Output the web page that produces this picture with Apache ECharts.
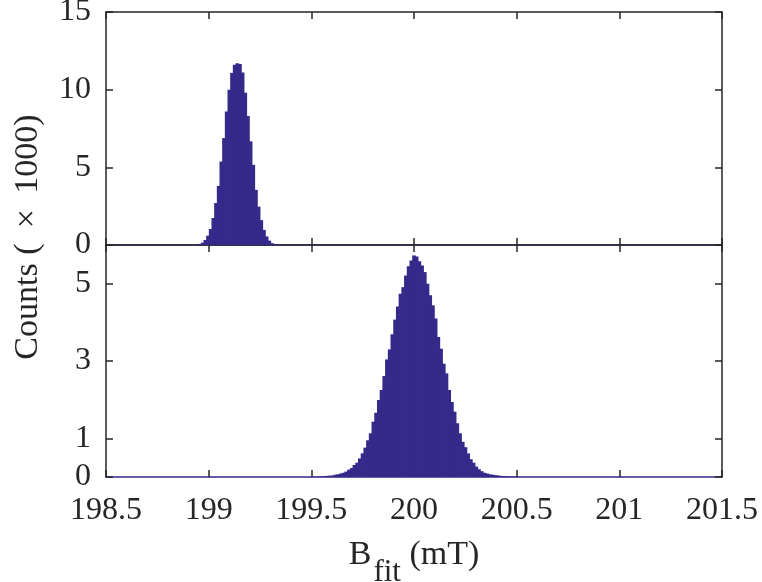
<!DOCTYPE html>
<html><head><meta charset="utf-8">
<script src="https://cdn.jsdelivr.net/npm/echarts@6/dist/echarts.min.js"></script>
<style>html,body{margin:0;padding:0;background:#fff}#c{width:762px;height:582px}</style>
</head><body><div id="c"></div>
<script>
// ---- data ----
const xTickValues = [198.5, 199, 199.5, 200, 200.5, 201, 201.5];
const topYTicks = [0, 5, 10, 15];
const bottomYTicks = [0, 1, 3, 5];

// top histogram (counts x 1000), bins of 0.013 mT
const topBinWidth = 0.013;
const topFirstCenter = 198.9445;
const topCounts = [0.03, 0.07, 0.15, 0.32, 0.6, 1.03, 1.74, 2.7, 3.8, 5.37, 6.88, 8.6, 10.0, 11.08, 11.6,
  11.7, 11.65, 11.1, 9.8, 8.3, 6.67, 5.16, 3.55, 2.47, 1.6, 0.97, 0.55, 0.28, 0.12, 0.05, 0.02];

// bottom histogram (counts x 1000), bins of 0.0132 mT
const bottomBinWidth = 0.0132;
const bottomFirstCenter = 199.5116;
const bottomCounts = [0.005, 0.008, 0.01, 0.015, 0.02, 0.03, 0.035, 0.04, 0.06, 0.07, 0.09, 0.11, 0.14, 0.19,
  0.23, 0.31, 0.37, 0.48, 0.61, 0.76, 0.95, 1.13, 1.43, 1.66, 1.99, 2.25, 2.61, 3.04, 3.30, 3.69, 4.07, 4.41,
  4.74, 4.91, 5.21, 5.45, 5.6, 5.73, 5.7, 5.58, 5.47, 5.3, 5.0, 4.70, 4.44, 4.10, 3.62, 3.32, 2.93, 2.68, 2.25,
  1.94, 1.69, 1.39, 1.13, 0.91, 0.77, 0.61, 0.46, 0.37, 0.27, 0.2, 0.15, 0.11, 0.09, 0.07, 0.06, 0.05, 0.04,
  0.03, 0.025, 0.02, 0.015, 0.01, 0.008, 0.005];

// ---- build ----
const topData = topCounts.map((v, i) => [topFirstCenter + i * topBinWidth, v]);
const bottomData = bottomCounts.map((v, i) => [bottomFirstCenter + i * bottomBinWidth, v]);

const FONT = 'Liberation Serif';
const TXT = '#262626';
const BAR = '#35298a';

function xAx(grid, pos, labels, lineColor) {
  return {
    type: 'value', gridIndex: grid, position: pos,
    min: xTickValues[0], max: xTickValues[xTickValues.length - 1], interval: 0.5,
    axisLine: { show: true, onZero: false, lineStyle: { color: lineColor, width: 1.5 } },
    axisTick: { show: true, inside: true, length: 7, lineStyle: { color: TXT, width: 1.5 } },
    axisLabel: { show: labels, margin: 18, fontFamily: FONT, fontSize: 32, color: TXT,
      formatter: v => String(+v.toFixed(1)) },
    splitLine: { show: false }
  };
}
function yAx(grid, pos, labels, ticks, max) {
  return {
    type: 'value', gridIndex: grid, position: pos, min: 0, max: max, interval: 1,
    axisLine: { show: true, onZero: false, lineStyle: { color: TXT, width: 1.5 } },
    axisTick: { show: true, inside: true, length: 7, customValues: ticks, lineStyle: { color: TXT, width: 1.5 } },
    axisLabel: { show: labels, margin: 15, customValues: ticks, fontFamily: FONT, fontSize: 32, color: TXT },
    splitLine: { show: false }
  };
}

const chart = echarts.init(document.getElementById('c'), null, { renderer: 'canvas' });
const botX = xAx(1, 'bottom', true, BAR);
botX.name = '{a|B}{s|fit}{a| (mT)}';
botX.nameLocation = 'middle';
botX.nameGap = 61;
botX.nameTextStyle = {
  fontFamily: FONT,
  rich: {
    a: { fontFamily: FONT, fontSize: 34, color: TXT, lineHeight: 34, verticalAlign: 'top' },
    s: { fontFamily: FONT, fontSize: 31, color: TXT, lineHeight: 31, padding: [19, 0, 0, 2], verticalAlign: 'top' }
  }
};

chart.setOption({
  animation: false,
  backgroundColor: '#fff',
  textStyle: { fontFamily: FONT },
  grid: [
    { left: 106, top: 12, width: 616, height: 233, show: false, containLabel: false, outerBoundsMode: 'none' },
    { left: 106, top: 245, width: 616, height: 232, show: false, containLabel: false, outerBoundsMode: 'none' }
  ],
  xAxis: [
    xAx(0, 'bottom', false, BAR),
    xAx(0, 'top', false, TXT),
    botX,
    xAx(1, 'top', false, TXT)
  ],
  yAxis: [
    yAx(0, 'left', true, topYTicks, 15),
    yAx(0, 'right', false, topYTicks, 15),
    yAx(1, 'left', true, bottomYTicks, 6),
    yAx(1, 'right', false, bottomYTicks, 6)
  ],
  series: [
    { type: 'bar', xAxisIndex: 0, yAxisIndex: 0, data: topData, barWidth: 3.6,
      itemStyle: { color: BAR }, z: 1 },
    { type: 'bar', xAxisIndex: 2, yAxisIndex: 2, data: bottomData, barWidth: 3.6,
      itemStyle: { color: BAR }, z: 1 }
  ],
  graphic: [{
    type: 'text', x: 28, y: 237, rotation: Math.PI / 2,
    style: { text: 'Counts ( \u2009×\u2009 1000)', fontFamily: FONT, fontSize: 34, fill: TXT,
      align: 'center', verticalAlign: 'middle' }
  }]
});
</script></body></html>
